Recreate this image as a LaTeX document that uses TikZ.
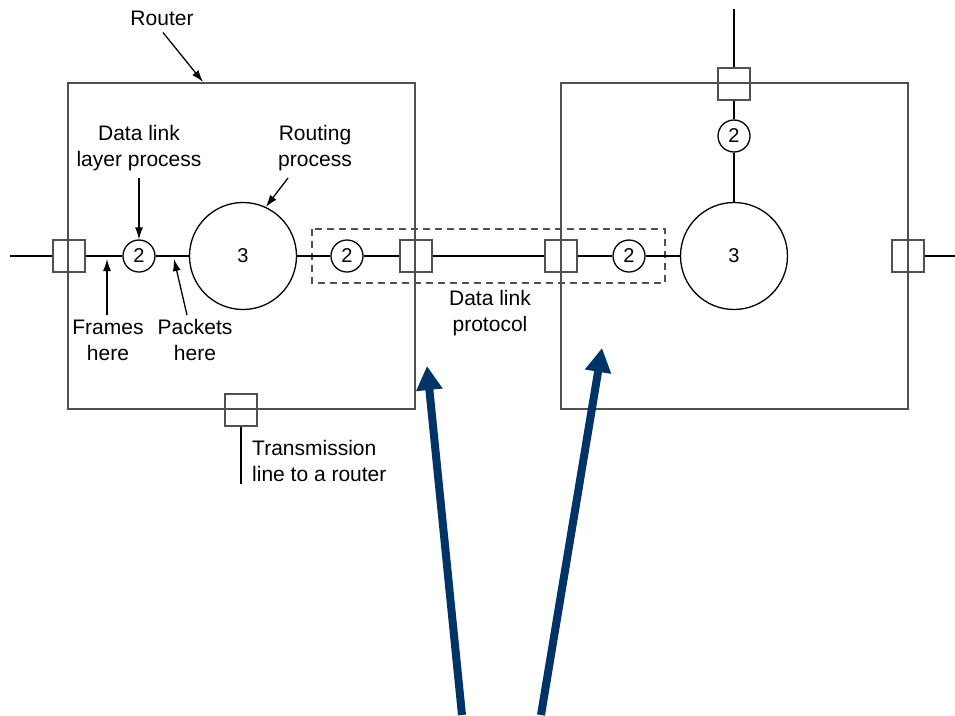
\documentclass[tikz,border=0pt]{standalone}
\usepackage{fontspec}
\setmainfont{Liberation Sans}
\usetikzlibrary{arrows.meta}
\definecolor{navy}{RGB}{0,51,102}
\definecolor{boxgray}{RGB}{80,80,80}
\begin{document}
\begin{tikzpicture}[x=1pt,y=-1pt,
  routerbox/.style={draw=boxgray, line width=1.5pt},
  wire/.style={draw=black, line width=2pt},
  port/.style={draw=boxgray, line width=1.3pt, minimum size=32pt, inner sep=0pt},
  dlp/.style={circle, draw=black, line width=1.3pt, minimum size=32pt, inner sep=0pt, font=\fontsize{20}{20}\selectfont},
  rproc/.style={circle, draw=black, line width=1.3pt, minimum size=107pt, inner sep=0pt, font=\fontsize{20}{20}\selectfont},
  lbl/.style={align=center, font=\fontsize{21}{26}\selectfont, inner sep=0pt},
  ptr/.style={-{Latex[length=12pt,width=8pt]}, line width=1.3pt},
  bigarrow/.style={-{Triangle[length=24pt,width=25pt]}, line width=8pt, draw=navy, fill=navy}
]
\useasboundingbox (0,0) rectangle (955,715);
\fill[white] (0,0) rectangle (955,715);

% router boxes
\draw[routerbox] (68,83) rectangle (415,409);
\draw[routerbox] (561,83) rectangle (908,409);

% dashed protocol box
\draw[draw=boxgray, line width=1.3pt, dash pattern=on 7pt off 5pt] (312,229) rectangle (665,283);

% ports
\node[port] (pL)  at (69,256) {};
\node[port] (p1)  at (416,256) {};
\node[port] (p2)  at (561,256) {};
\node[port] (pR)  at (908,256) {};
\node[port] (pT)  at (734,84) {};
\node[port] (pB)  at (241,410) {};

% processes
\node[dlp] (L2) at (139,256) {2};
\node[rproc] (L3) at (243,256) {3};
\node[dlp] (M2a) at (347,256) {2};
\node[dlp] (M2b) at (629,256) {2};
\node[rproc] (R3) at (734,256) {3};
\node[dlp] (T2) at (734,136) {2};

% free ends
\coordinate (wl) at (10,256);
\coordinate (wr) at (955,256);
\coordinate (wt) at (734,9);
\coordinate (wb) at (241,484);

% wires
\draw[wire] (wl) -- (pL.west);
\draw[wire] (pL.east) -- (L2.west);
\draw[wire] (L2.east) -- (L3.west);
\draw[wire] (L3.east) -- (M2a.west);
\draw[wire] (M2a.east) -- (p1.west);
\draw[wire] (p1.east) -- (p2.west);
\draw[wire] (p2.east) -- (M2b.west);
\draw[wire] (M2b.east) -- (R3.west);
\draw[wire] (pR.east) -- (wr);
\draw[wire] (wt) -- (pT.north);
\draw[wire] (pT.south) -- (T2.north);
\draw[wire] (T2.south) -- (R3.north);
\draw[wire] (pB.south) -- (wb);

% labels
\node[lbl] (router) at (162,18) {Router};
\node[lbl] (dll) at (139,148) {Data link\\layer process};
\node[lbl] (rpl) at (315,148) {Routing\\process};
\node[lbl] (frm) at (108,340) {Frames\\here};
\node[lbl] (pkt) at (195,340) {Packets\\here};
\node[lbl] (dlproto) at (490,313) {Data link\\protocol};
\node[lbl, align=left, anchor=west] (tx) at (252,461) {Transmission\\line to a router};

% pointer arrows
\coordinate (rtip) at (203,82);
\coordinate (ftip) at (107,259);
\coordinate (ktip) at (174,259);
\draw[ptr] ([xshift=1pt,yshift=-7pt]router.south) -- (rtip);
\draw[ptr] ([yshift=-7pt]dll.south) -- (L2.north);
\draw[ptr] ([xshift=-27pt,yshift=-7pt]rpl.south) -- (L3.65);
\draw[ptr] ([xshift=-1pt,yshift=4pt]frm.north) -- (ftip);
\draw[ptr] ([xshift=-8pt,yshift=4pt]pkt.north) -- (ktip);

% big navy arrows
\coordinate (a1s) at (462,715);
\coordinate (a1t) at (427,366);
\coordinate (a2s) at (541,715);
\coordinate (a2t) at (602,348);
\draw[bigarrow] (a1s) -- (a1t);
\draw[bigarrow] (a2s) -- (a2t);
\end{tikzpicture}
\end{document}
